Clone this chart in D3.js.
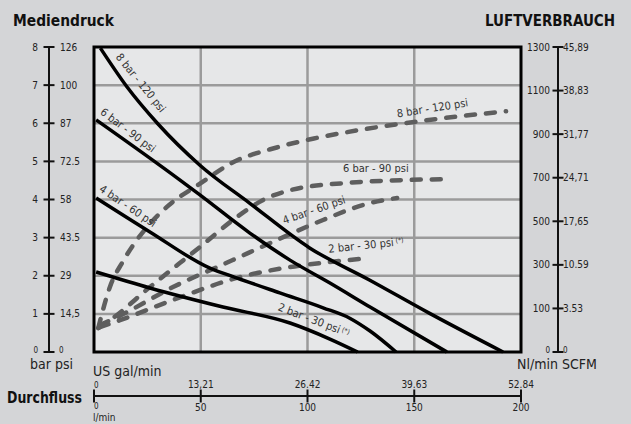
<!DOCTYPE html>
<html>
<head>
<meta charset="utf-8">
<script src="https://cdn.jsdelivr.net/npm/d3@7"></script>
<style>
  body { margin: 0; background: #d4d5d7; }
  svg { display: block; font-family: "Liberation Sans Narrow", "DejaVu Sans Condensed", "Roboto Condensed", sans-serif; }
  .title { font-weight: bold; font-size: 16px; fill: #111; }
  .tick-label { font-size: 10px; fill: #222; }
  .unit { font-size: 14px; fill: #222; }
  .curve-label { font-size: 11px; fill: #333; }
</style>
</head>
<body>
<div id="chart"></div>
<script>

// pressure axis (left)
var barTicks = [0, 1, 2, 3, 4, 5, 6, 7, 8];
var psiLabels = ["0", "14,5", "29", "43.5", "58", "72.5", "87", "100", "126"];

// air consumption axis (right)
var nlTicks = [0, 100, 300, 500, 700, 900, 1100, 1300];
var scfmLabels = ["0", "3.53", "10.59", "17,65", "24,71", "31,77", "38,83", "45,89"];

// flow axis (bottom)
var lminTicks = [0, 50, 100, 150, 200];
var galLabels = ["0", "13,21", "26.42", "39.63", "52.84"];

// flow curves: [l/min, bar]
var flow8 = [[3, 7.97], [15.5, 6.95], [30, 5.98], [49.6, 4.9], [73, 3.9], [101, 2.73], [129, 1.89], [157, 1.02], [191.6, 0]];
var flow6 = [[1, 6.09], [40.3, 4.51], [49.6, 4.12], [73, 3.12], [91.8, 2.41], [110.5, 1.81], [129.3, 1.18], [165.3, 0]];
var flow4 = [[1, 4.04], [26.2, 3.15], [54.3, 2.2], [67, 1.94], [87, 1.55], [107.3, 1.16], [120, 0.88], [129.3, 0.55], [141.5, 0]];
var flow2 = [[1, 2.1], [26.2, 1.68], [60.4, 1.18], [91.8, 0.76], [110.5, 0.34], [123.5, 0]];

// air consumption curves: [l/min, Nl/min]
var air8 = [[2, 55], [7.5, 200], [13.5, 315], [25, 475], [34, 565], [50, 675], [64, 765], [86, 840], [103, 880], [125, 920], [149, 955], [193, 1005]];
var air6 = [[2, 55], [7.5, 73], [26.2, 198], [49.6, 382], [67, 520], [79, 597], [92, 643], [118.5, 676], [166.7, 694]];
var air4 = [[2.8, 62], [10.8, 80], [37, 198], [65, 322], [85.7, 414], [107.3, 506], [129.3, 584], [142, 607]];
var air2 = [[2.8, 57], [12.2, 73], [37, 139], [68.4, 244], [91.8, 290], [110.5, 313], [124.6, 327]];

// labels: text, [l/min, value], angle
var flowLabels = [
  {text: "8 bar - 120 psi", pos: [22, 7.06], angle: 51},
  {text: "6 bar - 90 psi", pos: [15.9, 5.82], angle: 37},
  {text: "4 bar - 60 psi", pos: [15.9, 3.83], angle: 34},
  {text: "2 bar - 30 psi", star: true, pos: [103, 0.84], angle: 21}
];
var airLabels = [
  {text: "8 bar - 120 psi", pos: [158.5, 1020], angle: -9},
  {text: "6 bar - 90 psi", pos: [132, 744], angle: 0},
  {text: "4 bar - 60 psi", pos: [103, 552], angle: -19},
  {text: "2 bar - 30 psi", star: true, pos: [127.4, 391], angle: -6}
];

var margin = {top: 47, left: 94},
    width = 427,
    height = 305;

var root = d3.select("#chart")
  .append("svg")
    .attr("width", 631)
    .attr("height", 424);

var svg = root.append("g")
    .attr("transform", "translate(" + margin.left + "," + margin.top + ")");

var x = d3.scaleLinear().domain([0, 200]).range([0, width]);
var y = d3.scaleLinear().domain([0, 8]).range([height, 0]);
// right axis ticks are evenly spaced, 0-100 gets the same room as 100-300
var yAir = d3.scaleLinear().domain([0, 100, 1300]).range([height, height - height / 7, 0]);

// plot background + grid
svg.append("rect")
    .attr("width", width)
    .attr("height", height)
    .attr("fill", "#e6e7e8");

svg.selectAll(".vgrid")
    .data(lminTicks.slice(1, -1))
  .enter().append("line")
    .attr("x1", function(d) { return x(d); })
    .attr("x2", function(d) { return x(d); })
    .attr("y1", 0)
    .attr("y2", height)
    .attr("stroke", "#9b9b9b")
    .attr("stroke-width", 2.5);

svg.selectAll(".hgrid")
    .data(barTicks.slice(1, -1))
  .enter().append("line")
    .attr("x1", 0)
    .attr("x2", width)
    .attr("y1", function(d) { return y(d); })
    .attr("y2", function(d) { return y(d); })
    .attr("stroke", "#9b9b9b")
    .attr("stroke-width", 2.5);

// curves
var flowLine = d3.line()
    .x(function(d) { return x(d[0]); })
    .y(function(d) { return y(d[1]); })
    .curve(d3.curveMonotoneX);

var airLine = d3.line()
    .x(function(d) { return x(d[0]); })
    .y(function(d) { return yAir(d[1]); })
    .curve(d3.curveMonotoneX);

svg.selectAll(".air")
    .data([air8, air6, air4, air2])
  .enter().append("path")
    .attr("d", airLine)
    .attr("fill", "none")
    .attr("stroke", "#5e5e5e")
    .attr("stroke-width", 4.5)
    .attr("stroke-linecap", "round")
    .attr("stroke-dasharray", "9,11");

svg.selectAll(".flow")
    .data([flow8, flow6, flow4, flow2])
  .enter().append("path")
    .attr("d", flowLine)
    .attr("fill", "none")
    .attr("stroke", "#000")
    .attr("stroke-width", 3.5);

function addLabels(list, ys) {
  var t = svg.selectAll(null)
      .data(list)
    .enter().append("text")
      .attr("class", "curve-label")
      .attr("text-anchor", "middle")
      .attr("dy", "0.35em")
      .attr("transform", function(d) {
        return "translate(" + x(d.pos[0]) + "," + ys(d.pos[1]) + ") rotate(" + d.angle + ")";
      })
      .text(function(d) { return d.text; });
  t.filter(function(d) { return d.star; })
    .append("tspan")
      .attr("font-size", 7)
      .attr("dy", "-0.4em")
      .text(" (*)");
}
addLabels(flowLabels, y);
addLabels(airLabels, yAir);

// frame
svg.append("rect")
    .attr("width", width)
    .attr("height", height)
    .attr("fill", "none")
    .attr("stroke", "#000")
    .attr("stroke-width", 3);

// left axis
var leftX = 49 - margin.left;
svg.append("line")
    .attr("x1", leftX).attr("x2", leftX)
    .attr("y1", 0).attr("y2", height)
    .attr("stroke", "#111").attr("stroke-width", 2);

var lt = svg.selectAll(".ltick")
    .data(barTicks)
  .enter().append("g")
    .attr("transform", function(d) { return "translate(" + leftX + "," + y(d) + ")"; });
lt.append("line")
    .attr("x1", -5.5).attr("x2", 5.5)
    .attr("stroke", "#111").attr("stroke-width", 2);
lt.append("text")
    .attr("class", "tick-label")
    .attr("x", -11)
    .attr("dy", function(d) { return d === 0 ? "0.1em" : "0.35em"; })
    .attr("text-anchor", "end")
    .style("font-size", function(d) { return d === 0 ? "8px" : null; })
    .text(function(d) { return d; });
lt.append("text")
    .attr("class", "tick-label")
    .attr("x", function(d) { return d === 0 ? 10 : 11; })
    .attr("dy", function(d) { return d === 0 ? "0.1em" : "0.35em"; })
    .style("font-size", function(d) { return d === 0 ? "8px" : null; })
    .text(function(d, i) { return psiLabels[i]; });

// right axis
var rightX = 558 - margin.left;
svg.append("line")
    .attr("x1", rightX).attr("x2", rightX)
    .attr("y1", 0).attr("y2", height)
    .attr("stroke", "#111").attr("stroke-width", 2);

var rt = svg.selectAll(".rtick")
    .data(nlTicks)
  .enter().append("g")
    .attr("transform", function(d) { return "translate(" + rightX + "," + yAir(d) + ")"; });
rt.append("line")
    .attr("x1", -5.5).attr("x2", 5.5)
    .attr("stroke", "#111").attr("stroke-width", 2);
rt.append("text")
    .attr("class", "tick-label")
    .attr("x", -8)
    .attr("dy", function(d) { return d === 0 ? "0.1em" : "0.35em"; })
    .attr("text-anchor", "end")
    .style("font-size", function(d) { return d === 0 ? "8px" : null; })
    .text(function(d) { return d; });
rt.append("text")
    .attr("class", "tick-label")
    .attr("x", 5)
    .attr("dy", function(d) { return d === 0 ? "0.1em" : "0.35em"; })
    .style("font-size", function(d) { return d === 0 ? "8px" : null; })
    .text(function(d, i) { return scfmLabels[i]; });

// bottom flow axis
var axisY = 396 - margin.top;
svg.append("line")
    .attr("x1", 0).attr("x2", width)
    .attr("y1", axisY).attr("y2", axisY)
    .attr("stroke", "#111").attr("stroke-width", 2);

var bt = svg.selectAll(".btick")
    .data(lminTicks)
  .enter().append("g")
    .attr("transform", function(d) { return "translate(" + x(d) + "," + axisY + ")"; });
bt.append("line")
    .attr("y1", -6.5).attr("y2", 6.5)
    .attr("stroke", "#111").attr("stroke-width", 2);
bt.append("text")
    .attr("class", "tick-label")
    .attr("y", -8.5)
    .attr("text-anchor", function(d) { return d === 0 ? "start" : "middle"; })
    .style("font-size", function(d) { return d === 0 ? "8px" : null; })
    .text(function(d, i) { return galLabels[i]; });
bt.append("text")
    .attr("class", "tick-label")
    .attr("y", function(d) { return d === 0 ? 12.5 : 15; })
    .attr("text-anchor", function(d) { return d === 0 ? "start" : "middle"; })
    .style("font-size", function(d) { return d === 0 ? "8px" : null; })
    .text(function(d) { return d; });

// titles and units (squeezed to the condensed widths of the original)
root.append("text").attr("class", "title").attr("x", 13).attr("y", 26)
    .attr("textLength", 101).attr("lengthAdjust", "spacingAndGlyphs").text("Mediendruck");
root.append("text").attr("class", "title").attr("x", 485).attr("y", 26)
    .attr("textLength", 130).attr("lengthAdjust", "spacingAndGlyphs").text("LUFTVERBRAUCH");
root.append("text").attr("class", "title").attr("x", 7).attr("y", 403)
    .attr("textLength", 75).attr("lengthAdjust", "spacingAndGlyphs").text("Durchfluss");
root.append("text").attr("class", "unit").attr("x", 30).attr("y", 369).text("bar psi");
root.append("text").attr("class", "unit").attr("x", 517).attr("y", 369).text("Nl/min SCFM");
root.append("text").attr("class", "unit").attr("x", 93).attr("y", 376).text("US gal/min");
root.append("text").attr("class", "unit").attr("x", 93).attr("y", 421).style("font-size", "10px").text("l/min");

</script>
</body>
</html>
